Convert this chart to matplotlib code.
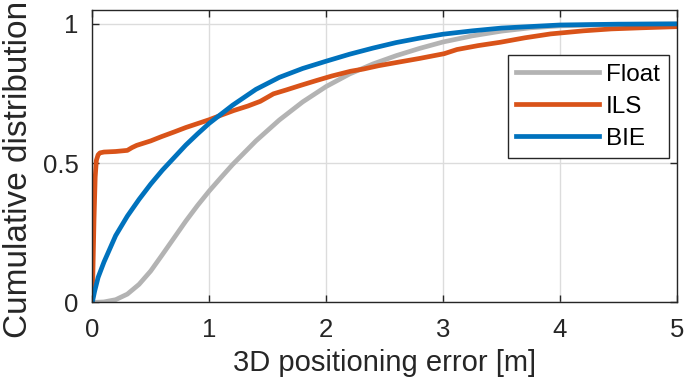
import matplotlib.pyplot as plt

plt.rcParams['font.family'] = ['Liberation Sans', 'DejaVu Sans']

# CDF curves
float_x = [0, 0.1, 0.2, 0.3, 0.4, 0.5, 0.6, 0.7, 0.8, 0.9, 1.0, 1.1, 1.2, 1.4,
           1.6, 1.8, 2.0, 2.2, 2.4, 2.6, 2.8, 3.0, 3.25, 3.5, 3.75, 4.0, 4.5, 5.0]
float_y = [0, 0.002, 0.01, 0.03, 0.065, 0.113, 0.172, 0.232, 0.292, 0.348, 0.40,
           0.448, 0.495, 0.58, 0.655, 0.72, 0.775, 0.82, 0.856, 0.886, 0.912,
           0.935, 0.957, 0.974, 0.986, 0.993, 0.998, 1.0]

ils_x = [0, 0.005, 0.015, 0.025, 0.035, 0.05, 0.066, 0.1, 0.2, 0.3, 0.34, 0.38,
         0.5, 0.59, 0.7, 0.8, 0.9, 1.0, 1.1, 1.21, 1.33, 1.437, 1.5, 1.55, 1.66,
         1.78, 1.92, 2.05, 2.21, 2.32, 2.45, 2.61, 2.8, 3.01, 3.12, 3.3, 3.49,
         3.7, 3.92, 4.2, 4.44, 4.7, 5.0]
ils_y = [0, 0.1, 0.3, 0.45, 0.51, 0.53, 0.537, 0.54, 0.542, 0.546, 0.556, 0.564,
         0.58, 0.595, 0.612, 0.628, 0.642, 0.656, 0.672, 0.689, 0.705, 0.722,
         0.737, 0.749, 0.763, 0.779, 0.797, 0.813, 0.83, 0.838, 0.85, 0.862,
         0.876, 0.893, 0.908, 0.922, 0.934, 0.95, 0.964, 0.975, 0.982, 0.986, 0.99]

bie_x = [0, 0.02, 0.05, 0.1, 0.2, 0.3, 0.4, 0.5, 0.6, 0.7, 0.8, 0.9, 1.0, 1.2,
         1.4, 1.6, 1.8, 2.0, 2.2, 2.4, 2.6, 2.8, 3.0, 3.25, 3.5, 4.0, 4.5, 5.0]
bie_y = [0, 0.04, 0.09, 0.145, 0.24, 0.31, 0.37, 0.425, 0.475, 0.52, 0.565,
         0.605, 0.643, 0.708, 0.765, 0.808, 0.84, 0.866, 0.891, 0.913, 0.933,
         0.949, 0.963, 0.975, 0.985, 0.996, 0.999, 1.0]

fig = plt.figure(figsize=(6.85, 3.89), dpi=100)
ax = fig.add_axes([0.1347, 0.2224, 0.8533, 0.752])

ax.plot(float_x, float_y, color='#b3b3b3', lw=3.4, label='Float')
ax.plot(ils_x, ils_y, color='#D95319', lw=3.4, label='ILS')
ax.plot(bie_x, bie_y, color='#0072BD', lw=3.4, label='BIE')

ax.set_xlim(0, 5)
ax.set_ylim(0, 1.05)
ax.set_xticks([0, 1, 2, 3, 4, 5])
ax.set_yticks([0, 0.5, 1])
ax.set_yticklabels(['0', '0.5', '1'])
ax.grid(True, color='#dcdcdc', lw=1)
ax.set_axisbelow(True)
ax.tick_params(direction='in', top=True, right=True, labelsize=18.5,
               length=5, width=1, colors='#262626')
ax.tick_params(axis='x', pad=11)
ax.tick_params(axis='y', pad=10)
for s in ax.spines.values():
    s.set_color('#262626')
    s.set_linewidth(1)

ax.set_xlabel('3D positioning error [m]', fontsize=21, color='#262626')
ax.set_ylabel('Cumulative distribution', fontsize=24, color='#262626')
ax.xaxis.set_label_coords(0.5, -0.16)
ax.yaxis.set_label_coords(-0.1, 0.456)

leg = ax.legend(loc='upper right', bbox_to_anchor=(0.986, 0.846), borderaxespad=0,
                fontsize=17.5, handlelength=3.4, handletextpad=0.3, fancybox=False,
                framealpha=1, edgecolor='#262626', labelspacing=0.42,
                borderpad=0.35)
leg.get_frame().set_linewidth(1)

fig.savefig('out.png', dpi=100)
